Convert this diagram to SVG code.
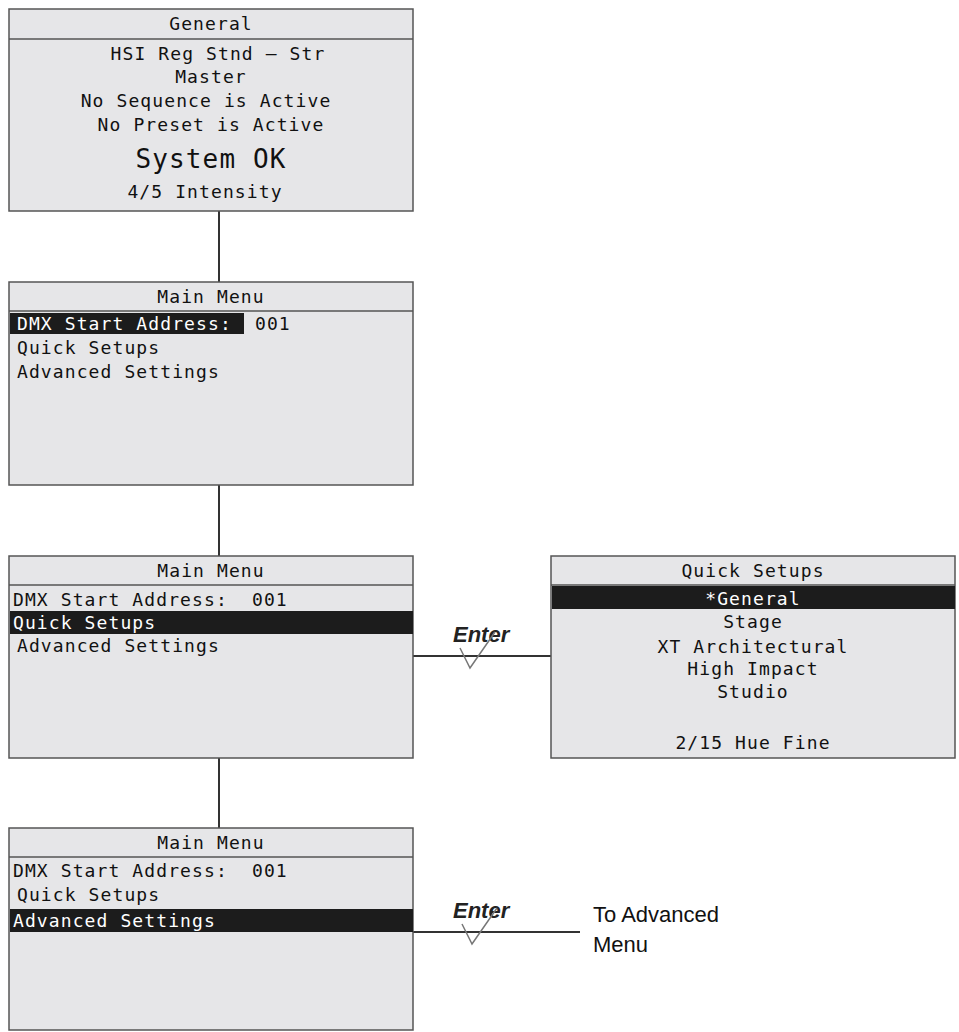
<svg xmlns="http://www.w3.org/2000/svg" width="959" height="1032" viewBox="0 0 959 1032">
<style>
.box{fill:#e6e6e8;stroke:#555;stroke-width:1.5}
.hl{stroke:#555;stroke-width:1.5}
.t{font-family:"DejaVu Sans Mono","Liberation Mono",monospace;font-size:18px;letter-spacing:1.1px;fill:#111}
.big{font-size:26px}
.c{text-anchor:middle}
.w{fill:#fff}
.bar{fill:#1c1c1c}
.con{stroke:#333;stroke-width:2;fill:none}
</style>
<rect width="959" height="1032" fill="#fff"/>
<g id="connectors">
<line class="con" x1="219" y1="211" x2="219" y2="282"/>
<line class="con" x1="219" y1="485" x2="219" y2="556"/>
<line class="con" x1="219" y1="758" x2="219" y2="828"/>
<line class="con" x1="413" y1="656" x2="551" y2="656"/>
<line class="con" x1="413" y1="932" x2="580" y2="932"/>
<g font-family="Liberation Sans,sans-serif" font-style="italic" font-weight="bold" font-size="22" fill="#222">
<text x="453" y="642">Enter</text>
<text x="453" y="918">Enter</text>
</g>
<path d="M460 648 L470 668 L495 632 M462 924 L472 944 L497 908" stroke="#777" stroke-width="1.5" fill="none"/>
<text x="593" y="922" font-family="Liberation Sans,sans-serif" font-size="22" fill="#111">To Advanced</text>
<text x="593" y="952" font-family="Liberation Sans,sans-serif" font-size="22" fill="#111">Menu</text>
</g>
<g id="general">
<rect class="box" x="9" y="9" width="404" height="202"/>
<line class="hl" x1="9" y1="39" x2="413" y2="39"/>
<text class="t c" x="211" y="30">General</text>
<text class="t c" x="218" y="60">HSI Reg Stnd — Str</text>
<text class="t c" x="211" y="83">Master</text>
<text class="t c" x="206" y="107">No Sequence is Active</text>
<text class="t c" x="211" y="131">No Preset is Active</text>
<text class="t c big" x="211" y="168">System OK</text>
<text class="t c" x="205" y="198">4/5 Intensity</text>
</g>
<g id="menu1">
<rect class="box" x="9" y="282" width="404" height="203"/>
<line class="hl" x1="9" y1="311" x2="413" y2="311"/>
<text class="t c" x="211" y="303">Main Menu</text>
<rect class="bar" x="10" y="313" width="234" height="21"/>
<text class="t w" x="17" y="330">DMX Start Address:</text>
<text class="t" x="255" y="330">001</text>
<text class="t" x="17" y="354">Quick Setups</text>
<text class="t" x="17" y="378">Advanced Settings</text>
</g>
<g id="menu2">
<rect class="box" x="9" y="556" width="404" height="202"/>
<line class="hl" x1="9" y1="585" x2="413" y2="585"/>
<text class="t c" x="211" y="577">Main Menu</text>
<text class="t" x="13" y="606">DMX Start Address:</text>
<text class="t" x="252" y="606">001</text>
<rect class="bar" x="10" y="611" width="403" height="23"/>
<text class="t w" x="13" y="629">Quick Setups</text>
<text class="t" x="17" y="652">Advanced Settings</text>
</g>
<g id="quicksetups">
<rect class="box" x="551" y="556" width="404" height="202"/>
<line class="hl" x1="551" y1="585" x2="955" y2="585"/>
<text class="t c" x="753" y="577">Quick Setups</text>
<rect class="bar" x="552" y="586" width="403" height="23"/>
<text class="t c w" x="753" y="605">*General</text>
<text class="t c" x="753" y="628">Stage</text>
<text class="t c" x="753" y="653">XT Architectural</text>
<text class="t c" x="753" y="675">High Impact</text>
<text class="t c" x="753" y="698">Studio</text>
<text class="t c" x="753" y="749">2/15 Hue Fine</text>
</g>
<g id="menu3">
<rect class="box" x="9" y="828" width="404" height="202"/>
<line class="hl" x1="9" y1="857" x2="413" y2="857"/>
<text class="t c" x="211" y="849">Main Menu</text>
<text class="t" x="13" y="877">DMX Start Address:</text>
<text class="t" x="252" y="877">001</text>
<text class="t" x="17" y="901">Quick Setups</text>
<rect class="bar" x="10" y="909" width="403" height="23"/>
<text class="t w" x="13" y="927">Advanced Settings</text>
</g>
</svg>
